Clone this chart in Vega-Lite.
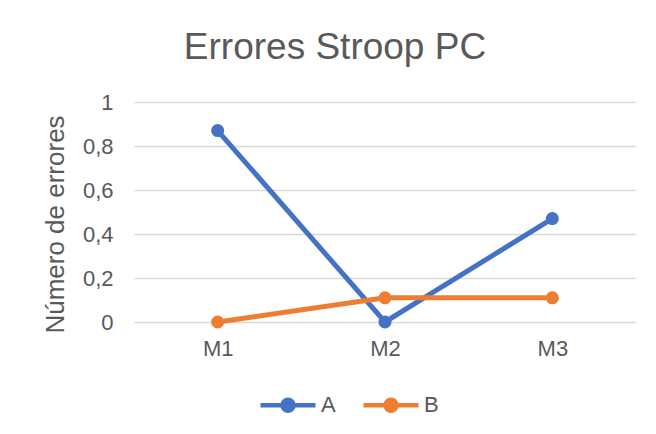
{
  "$schema": "https://vega.github.io/schema/vega-lite/v6.json",
  "width": 502,
  "height": 220,
  "autosize": {"type": "none"},
  "padding": {"left": 134, "top": 102, "right": 20, "bottom": 112},
  "background": "white",
  "title": {
    "text": "Errores Stroop PC",
    "font": "Liberation Sans",
    "fontSize": 37,
    "fontWeight": "normal",
    "color": "#595959",
    "anchor": "middle",
    "dx": -50,
    "offset": 24
  },
  "data": {
    "values": [
      {"m": "M1", "serie": "A", "v": 0.87},
      {"m": "M2", "serie": "A", "v": 0.0},
      {"m": "M3", "serie": "A", "v": 0.47},
      {"m": "M1", "serie": "B", "v": 0.0},
      {"m": "M2", "serie": "B", "v": 0.11},
      {"m": "M3", "serie": "B", "v": 0.11}
    ]
  },
  "mark": {"type": "line", "strokeWidth": 5, "point": {"size": 170, "filled": true, "opacity": 1}},
  "encoding": {
    "x": {
      "field": "m",
      "type": "ordinal",
      "scale": {"type": "point", "padding": 0.5},
      "axis": {
        "title": null,
        "labelAngle": 0,
        "domain": false,
        "ticks": false,
        "tickSize": 0,
        "grid": false,
        "labelPadding": 16,
        "labelFont": "Liberation Sans",
        "labelFontSize": 22,
        "labelColor": "#595959"
      }
    },
    "y": {
      "field": "v",
      "type": "quantitative",
      "scale": {"domain": [0, 1], "nice": false},
      "axis": {
        "title": "Número de errores",
        "titleFont": "Liberation Sans",
        "titleFontSize": 26,
        "titleFontWeight": "normal",
        "titleColor": "#595959",
        "titlePadding": 14,
        "titleY": 122,
        "values": [0, 0.2, 0.4, 0.6, 0.8, 1],
        "labelExpr": "replace(format(datum.value, '~g'), '.', ',')",
        "domain": false,
        "ticks": false,
        "tickSize": 0,
        "labelPadding": 21,
        "labelFont": "Liberation Sans",
        "labelFontSize": 22,
        "labelColor": "#595959",
        "gridColor": "#D9D9D9",
        "gridWidth": 1.3
      }
    },
    "color": {
      "field": "serie",
      "type": "nominal",
      "scale": {"domain": ["A", "B"], "range": ["#4472C4", "#ED7D31"]},
      "legend": {
        "title": null,
        "orient": "none",
        "direction": "horizontal",
        "legendX": 124,
        "legendY": 273,
        "symbolType": "M-1,0L1,0M0.2,0A0.2,0.2,0,1,1,-0.2,0A0.2,0.2,0,1,1,0.2,0Z",
        "symbolSize": 3025,
        "symbolStrokeWidth": 4.5,
        "labelFont": "Liberation Sans",
        "labelFontSize": 22,
        "labelColor": "#595959",
        "labelOffset": 3,
        "columnPadding": 18,
        "encode": {
          "symbols": {
            "update": {
              "fill": {"scale": "color", "field": "value"},
              "stroke": {"scale": "color", "field": "value"},
              "opacity": {"value": 1}
            }
          }
        }
      }
    }
  },
  "config": {"view": {"stroke": null}}
}
